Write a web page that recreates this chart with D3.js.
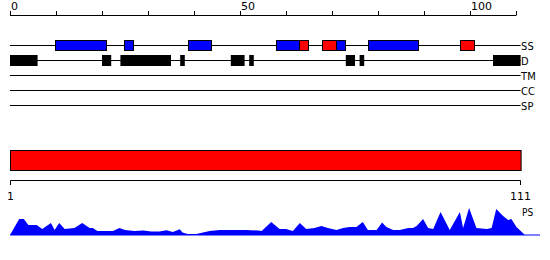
<!DOCTYPE html>
<html>
<head>
<meta charset="utf-8">
<script src="https://cdn.jsdelivr.net/npm/d3@7"></script>
<style>
  body { margin: 0; background: #fff; }
  text { font-family: "DejaVu Sans", sans-serif; }
</style>
</head>
<body>
<div id="chart"></div>
<script>
// sequence length and ruler
const seqLength = 111;
const rulerTicks = [0, 10, 20, 30, 40, 50, 60, 70, 80, 90, 100, 110];
const rulerLabels = [0, 50, 100];

// feature tracks, top to bottom
const tracks = ["SS", "D", "TM", "CC", "SP"];

// secondary structure: H = helix (blue), E = strand (red)
const ssStart = [10, 25, 39, 58, 63, 68, 71, 78, 98];
const ssEnd   = [21, 27, 44, 63, 65, 71, 73, 89, 101];
const ssType  = ["H", "H", "H", "H", "E", "E", "H", "H", "E"];

// disordered regions
const disStart = [0, 20, 24, 37, 48, 52, 73, 76, 105];
const disEnd   = [6, 22, 35, 38, 51, 53, 75, 77, 111];

// bottom position ruler
const posLabels = [1, 111];

// PS profile vertices (position, score)
const psPos = [0, 2, 3, 4, 5.8, 7, 8.9, 9.7, 10.7, 11.9, 14, 15.7, 17.3, 18, 19, 22.4, 23.8, 25, 26,
  27, 29, 30.7, 32.5, 34, 35.4, 36.9, 37.5, 38.6, 40.5, 43.4, 45.6, 47.8, 51.4, 54, 54.7, 56.8, 58.6,
  60, 61.5, 63, 64.4, 66.2, 67.7, 69.1, 71, 72.4, 73.8, 75.3, 76.7, 77.8, 79.7, 80.9, 81.8, 83.3, 84.7,
  86.6, 87.6, 88.4, 89.8, 90.9, 92, 93.6, 95.6, 97.8, 98.5, 99.8, 101.4, 103.6, 104.7, 105.7, 107.2,
  108.3, 109, 110.1, 111.5, 111.9];
const psVal = [0, 16, 16, 10, 10, 6, 12, 5, 12, 6, 7, 12, 7, 7, 4, 4, 7, 5, 4.5,
  4, 4.5, 3.5, 3.5, 4.7, 3, 5.7, 2.5, 1, 1, 4, 5, 5, 5, 4.5, 4, 13, 6,
  6, 4, 12, 6, 7, 9, 7, 5, 7, 8, 8, 13, 5, 5, 12.5, 8, 5, 5,
  7, 7, 9, 16, 7, 6, 23, 5, 23, 7, 27, 7, 6, 7, 26, 19,
  15, 16, 8, 2, 0];

const width = 550, height = 260;
const svg = d3.select("#chart").append("svg")
  .attr("width", width)
  .attr("height", height);

const x = d3.scaleLinear().domain([0, seqLength]).range([10, 520.6]);
const trackY = d3.scalePoint().domain(tracks).range([45, 105]);

// top ruler
svg.append("line")
  .attr("x1", x(0)).attr("x2", x(110))
  .attr("y1", 15.5).attr("y2", 15.5)
  .attr("stroke", "#000");
svg.selectAll(".rtick").data(rulerTicks).enter().append("line")
  .attr("x1", d => Math.round(x(d)) + 0.5).attr("x2", d => Math.round(x(d)) + 0.5)
  .attr("y1", 11).attr("y2", 15.5)
  .attr("stroke", "#000");
svg.selectAll(".rlabel").data(rulerLabels).enter().append("text")
  .attr("x", d => x(d) + 1).attr("y", 10)
  .attr("font-size", 11)
  .text(d => d);

// track lines and labels
svg.selectAll(".track").data(tracks).enter().append("line")
  .attr("x1", x(0)).attr("x2", x(seqLength))
  .attr("y1", d => trackY(d) + 0.5).attr("y2", d => trackY(d) + 0.5)
  .attr("stroke", "#000");
svg.selectAll(".tlabel").data(tracks).enter().append("text")
  .attr("x", x(seqLength) + 0.5)
  .attr("y", d => trackY(d) + 4.5)
  .attr("font-size", 11)
  .style("font-family", "'DejaVu Sans Condensed', 'DejaVu Sans', sans-serif")
  .text(d => d);

// disorder blocks
svg.selectAll(".dis").data(disStart).enter().append("rect")
  .attr("x", (d, i) => x(d))
  .attr("width", (d, i) => x(disEnd[i]) - x(d))
  .attr("y", trackY("D") - 5)
  .attr("height", 11)
  .attr("fill", "#000");

// secondary structure blocks
svg.selectAll(".ss").data(ssStart).enter().append("rect")
  .attr("x", (d, i) => Math.round(x(d)) - 0.5)
  .attr("width", (d, i) => Math.round(x(ssEnd[i])) - Math.round(x(d)))
  .attr("y", trackY("SS") - 4.5)
  .attr("height", 10)
  .attr("fill", (d, i) => ssType[i] === "H" ? "#0000ff" : "#ff0000")
  .attr("stroke", "#000");

// full-length bar
svg.append("rect")
  .attr("x", x(0) + 0.5).attr("y", 150.5)
  .attr("width", x(seqLength) - x(0)).attr("height", 20)
  .attr("fill", "#ff0000")
  .attr("stroke", "#000");

// bottom position ruler
const pos = d3.scaleLinear().domain([1, seqLength]).range([10.5, 520.5]);
svg.append("line")
  .attr("x1", pos(1)).attr("x2", pos(seqLength))
  .attr("y1", 180.5).attr("y2", 180.5)
  .attr("stroke", "#000");
svg.selectAll(".ptick").data(posLabels).enter().append("line")
  .attr("x1", d => pos(d)).attr("x2", d => pos(d))
  .attr("y1", 180.5).attr("y2", 185)
  .attr("stroke", "#000");
svg.selectAll(".plabel").data(posLabels).enter().append("text")
  .attr("x", d => pos(d)).attr("y", 200)
  .attr("text-anchor", "middle")
  .attr("font-size", 11)
  .text(d => d);

// PS profile
const y = d3.scaleLinear().domain([0, 30]).range([235, 205]);
svg.append("line")
  .attr("x1", x(0)).attr("x2", 540)
  .attr("y1", 235).attr("y2", 235)
  .attr("stroke", "#0000ff");
const area = d3.area()
  .x((d, i) => x(psPos[i]))
  .y0(y(0))
  .y1(d => y(d));
svg.append("path")
  .datum(psVal)
  .attr("d", area)
  .attr("fill", "#0000ff");
svg.append("text")
  .attr("x", 522).attr("y", 216)
  .attr("font-size", 10)
  .style("font-family", "'DejaVu Sans Condensed', 'DejaVu Sans', sans-serif")
  .text("PS");
</script>
</body>
</html>
